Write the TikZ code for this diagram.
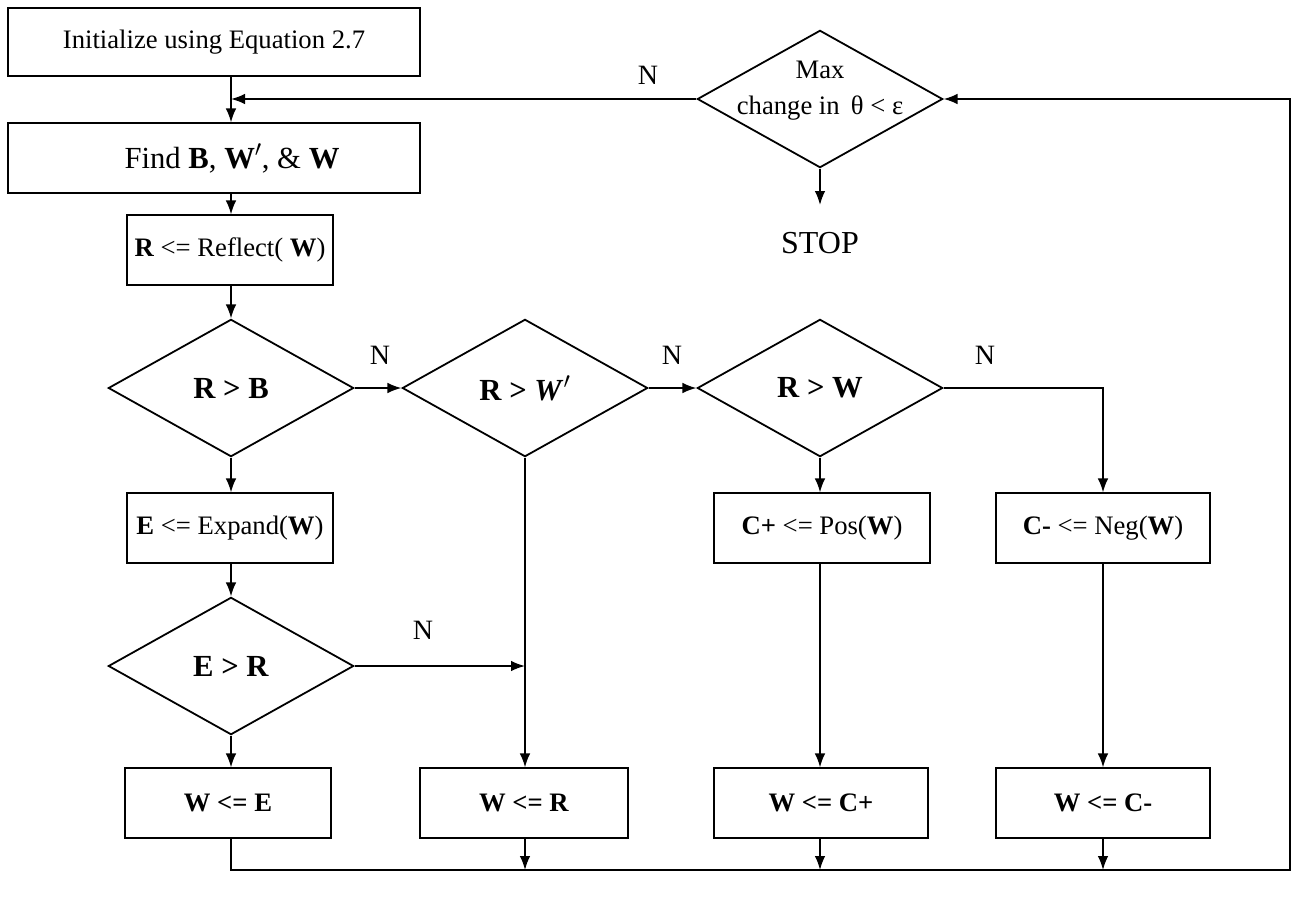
\documentclass[tikz,border=0pt]{standalone}
\usepackage{fontspec}
\setmainfont{Liberation Serif}
\usetikzlibrary{shapes.geometric,arrows.meta}
\begin{document}
\begin{tikzpicture}[x=0.75pt,y=-0.75pt,
  line width=1.35pt,
  box/.style={draw, rectangle, inner sep=0pt, minimum height=52pt, font=\fontsize{20}{24}\selectfont},
  dia/.style={draw, diamond, inner sep=0pt, minimum width=184pt, minimum height=103pt, font=\fontsize{23}{27}\selectfont},
  arr/.style={-{Latex[length=10.5pt,width=8pt]}},
  lab/.style={font=\fontsize{21}{25}\selectfont}]
\useasboundingbox (0,0) rectangle (1294,896);
\coordinate (c1) at (231,0);
\coordinate (c2) at (1290,870);
% nodes
\node[box, minimum width=309pt, minimum height=51pt] (init) at (214,42) {Initialize using Equation 2.7};
\node[box, minimum width=309pt, font=\fontsize{23}{27}\selectfont] (find) at (214,158) {\hspace*{27pt}Find \textbf{B}, \textbf{W}$'$, \& \textbf{W}};
\node[box, minimum width=154.5pt] (reflect) at (230,250) {\textbf{R} <= Reflect( \textbf{W})};
\node[dia] (rb) at (231,388) {\textbf{R > B}};
\node[dia] (rw1) at (525,388) {\textbf{R >} \textbf{\textit{W}}$'$};
\node[dia] (rw2) at (820,388) {\textbf{R > W}};
\node[box, minimum width=154.5pt] (expand) at (230,528) {\textbf{E} <= Expand(\textbf{W})};
\node[box, minimum width=162pt] (cpos) at (822,528) {\textbf{C+} <= Pos(\textbf{W})};
\node[box, minimum width=160pt] (cneg) at (1103,528) {\textbf{C-} <= Neg(\textbf{W})};
\node[dia] (er) at (231,666) {\textbf{E > R}};
\node[box, minimum width=154pt] (we) at (228,803) {\textbf{W <= E}};
\node[box, minimum width=156pt] (wr) at (524,803) {\textbf{W <= R}};
\node[box, minimum width=160.5pt] (wcp) at (821,803) {\textbf{W <= C+}};
\node[box, minimum width=160pt] (wcn) at (1103,803) {\textbf{W <= C-}};
\node[dia] (max) at (820,99) {};
\node[align=center, font=\fontsize{20}{27}\selectfont] (maxt) at (820,91) {Max\\change in \,θ < ε};
\node[lab, font=\fontsize{24}{28}\selectfont] (stop) at (820,243) {STOP};
\coordinate (stopin) at (820,205);
% labels
\node[lab] (n0) at (648,75) {N};
\node[lab] (n1) at (380,355) {N};
\node[lab] (n2) at (672,355) {N};
\node[lab] (n3) at (985,355) {N};
\node[lab] (n4) at (423,630) {N};
% connectors
\draw[arr] (init.south -| c1) -- (find.north -| c1);
\draw[arr] (max.west) -- (max.west -| c1);
\draw[arr] (find.south -| c1) -- (reflect.north -| c1);
\draw[arr] (reflect.south -| c1) -- (rb.north);
\draw[arr] (rb.east) -- (rw1.west);
\draw[arr] (rw1.east) -- (rw2.west);
\draw[arr] (rw2.east) -| (cneg.north);
\draw[arr] (rw2.south) -- (cpos.north -| rw2.south);
\draw[arr] (rb.south) -- (expand.north -| rb.south);
\draw[arr] (expand.south -| er.north) -- (er.north);
\draw[arr] (rw1.south) -- (wr.north -| rw1.south);
\draw[arr] (er.east) -- (er.east -| rw1.south);
\draw[arr] (er.south) -- (we.north -| er.south);
\draw[arr] (cpos.south -| rw2.south) -- (wcp.north -| rw2.south);
\draw[arr] (cneg.south) -- (wcn.north);
\draw[arr] (we.south -| er.south) |- (c2) |- (max.east);
\draw[arr] (wr.south -| rw1.south) -- (c2 -| rw1.south);
\draw[arr] (wcp.south -| rw2.south) -- (c2 -| rw2.south);
\draw[arr] (wcn.south) -- (c2 -| wcn.south);
\draw[arr] (max.south) -- (stopin);
\end{tikzpicture}
\end{document}
